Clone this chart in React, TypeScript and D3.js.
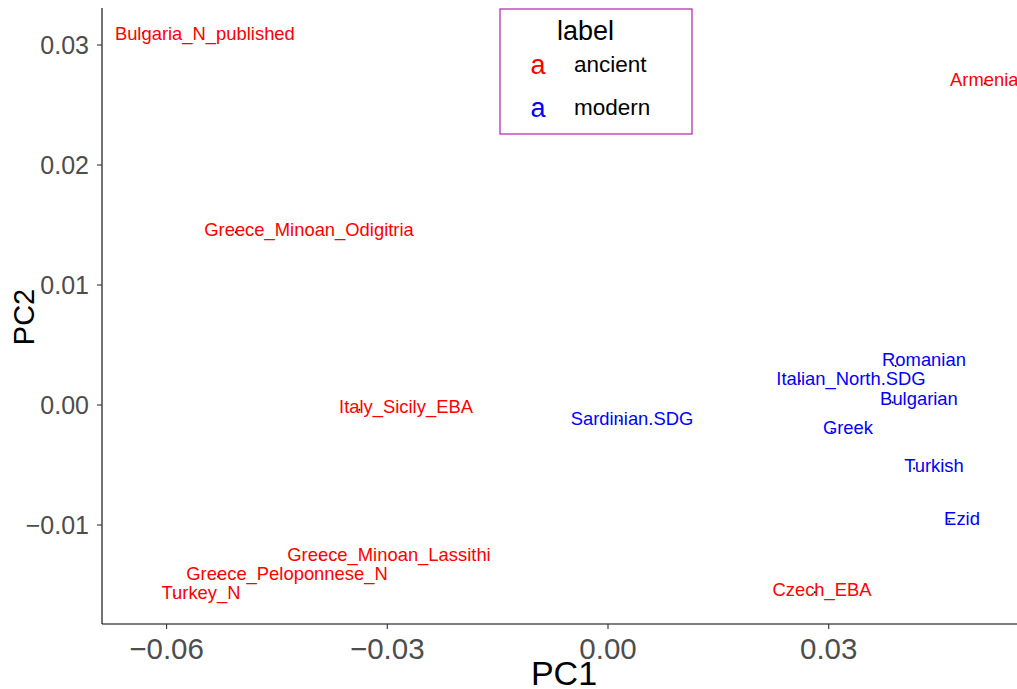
import React from "react";
import * as d3 from "d3";

// Population PCA coordinates (PC1, PC2) and repelled label anchors
const populations = [
  "Bulgaria_N_published",
  "Armenia",
  "Greece_Minoan_Odigitria",
  "Italy_Sicily_EBA",
  "Sardinian.SDG",
  "Romanian",
  "Italian_North.SDG",
  "Bulgarian",
  "Greek",
  "Turkish",
  "Ezid",
  "Greece_Minoan_Lassithi",
  "Greece_Peloponnese_N",
  "Turkey_N",
  "Czech_EBA",
];
const groups = [
  "ancient", "ancient", "ancient", "ancient", "modern", "modern", "modern",
  "modern", "modern", "modern", "modern", "ancient", "ancient", "ancient", "ancient",
];
const pc1 = [-0.0632, 0.0512, -0.0506, -0.0338, 0.0016, 0.0391, 0.0261, 0.0387, 0.0304, 0.0416, 0.0464, -0.0391, -0.053, -0.0589, 0.0281];
const pc2 = [0.031, 0.0268, 0.0144, -0.0004, -0.0013, 0.00325, 0.002, 0.0002, -0.0022, -0.0053, -0.0097, -0.0128, -0.0143, -0.0159, -0.0156];
const labelPc1 = [-0.0548, 0.05115, -0.04064, -0.02746, 0.00326, 0.04295, 0.03303, 0.04227, 0.03262, 0.04431, 0.04812, -0.02977, -0.04363, -0.05532, 0.02909];
const labelPc2 = [0.031, 0.02717, 0.01467, -0.00008, -0.00108, 0.00383, 0.00225, 0.00058, -0.00183, -0.005, -0.00942, -0.01242, -0.014, -0.01558, -0.01533];

const xTicks = [-0.06, -0.03, 0, 0.03];
const yTicks = [-0.01, 0, 0.01, 0.02, 0.03];
const legendKeys = ["ancient", "modern"];

const W = 1017;
const H = 689;
const FONT = "'Liberation Sans', Arial, Helvetica, sans-serif";

export default function App() {
  const margin = { left: 102, top: 8, bottom: 624 };
  const x = d3.scaleLinear().domain([0, 0.03]).range([608, 828.7]);
  const y = d3.scaleLinear().domain([0, 0.01]).range([405, 285]);
  const color = d3.scaleOrdinal<string, string>().domain(legendKeys).range(["#FF0000", "#0000FF"]);
  const fmt = (v: number) => {
    const s = Math.abs(v).toFixed(2);
    return v < -1e-9 ? "\u2212" + s : s;
  };
  const rightEdge = W + 20;

  return (
    <svg
      width={W}
      height={H}
      style={{ position: "absolute", left: 0, top: 0, background: "#fff" }}
      fontFamily={FONT}
    >
      {/* points */}
      {populations.map((p, i) => (
        <circle key={"pt" + p} cx={x(pc1[i])} cy={y(pc2[i])} r={1} fill="#000" />
      ))}
      {/* labels */}
      {populations.map((p, i) => (
        <text
          key={"lb" + p}
          x={x(labelPc1[i])}
          y={y(labelPc2[i])}
          dy="0.36em"
          textAnchor="middle"
          fontSize={18.4}
          fill={color(groups[i])}
        >
          {p}
        </text>
      ))}

      {/* axes */}
      <line x1={margin.left} x2={margin.left} y1={margin.top} y2={margin.bottom} stroke="#000" strokeWidth={1.1} />
      <line x1={margin.left} x2={rightEdge} y1={margin.bottom} y2={margin.bottom} stroke="#000" strokeWidth={1.1} />
      {yTicks.map((t) => (
        <g key={"yt" + t}>
          <line x1={margin.left - 5} x2={margin.left} y1={y(t)} y2={y(t)} stroke="#333" strokeWidth={1.1} />
          <text x={margin.left - 13} y={y(t)} dy="0.36em" textAnchor="end" fontSize={25} fill="#4D4D4D">
            {fmt(t)}
          </text>
        </g>
      ))}
      {xTicks.map((t) => (
        <g key={"xt" + t}>
          <line x1={x(t)} x2={x(t)} y1={margin.bottom} y2={margin.bottom + 5} stroke="#333" strokeWidth={1.1} />
          <text x={x(t)} y={659} textAnchor="middle" fontSize={29.5} fill="#4D4D4D">
            {fmt(t)}
          </text>
        </g>
      ))}
      <text x={564} y={685} textAnchor="middle" fontSize={34} fill="#000">
        PC1
      </text>
      <text
        transform={`translate(34,317) rotate(-90)`}
        textAnchor="middle"
        fontSize={29}
        fill="#000"
      >
        PC2
      </text>

      {/* legend */}
      <rect x={500} y={9} width={192} height={125} fill="#fff" stroke="#B520A5" strokeWidth={1.2} />
      <text x={557} y={40} fontSize={27} fill="#000">
        label
      </text>
      {legendKeys.map((k, i) => (
        <g key={"lg" + k}>
          <text x={538} y={64 + i * 43} dy="0.36em" textAnchor="middle" fontSize={27} fill={color(k)}>
            a
          </text>
          <text x={574} y={64 + i * 43} dy="0.36em" fontSize={22.5} fill="#000">
            {k}
          </text>
        </g>
      ))}
    </svg>
  );
}
